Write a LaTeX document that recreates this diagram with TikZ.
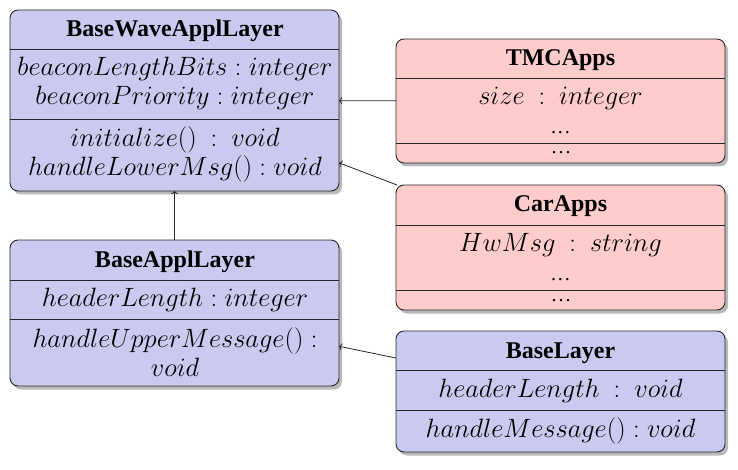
\RequirePackage{fix-cm}
\documentclass[tikz,border=0pt]{standalone}
\usepackage[no-math]{fontspec}
\setmainfont{Liberation Serif}
\newfontfamily\dotsfont[LetterSpace=10]{Liberation Serif}
\usetikzlibrary{shadows,arrows.meta}
\definecolor{umlblue}{RGB}{202,202,240}
\definecolor{umlpink}{RGB}{255,204,204}
\begin{document}
\begin{tikzpicture}[x=1pt,y=-1pt,
  classbox/.style={draw=black!85, line width=0.9pt, rounded corners=8pt, inner sep=0pt, outer sep=0pt, anchor=north west,
    minimum width=329pt, drop shadow={shadow xshift=3pt, shadow yshift=-3.5pt, fill=black!50, opacity=0.55}},
  bluebox/.style={classbox, fill=umlblue},
  pinkbox/.style={classbox, fill=umlpink},
  divider/.style={draw=black!85, line width=0.9pt},
  titletext/.style={anchor=base, font=\fontsize{24}{29}\selectfont\bfseries, inner sep=0pt},
  entry/.style={anchor=base, font=\fontsize{26.5}{29}\selectfont, inner sep=0pt},
  twoline/.style={entry, align=center},
  dotstext/.style={anchor=base, font=\dotsfont\fontsize{20}{29}\selectfont, inner sep=0pt, text height=3pt, text depth=0pt},
  link/.style={draw=black!85, line width=0.8pt, -{To[length=3pt,width=7pt]}}
]
\useasboundingbox (0,0) rectangle (738,470);

% ---------- BaseWaveApplLayer ----------
\node[bluebox, minimum height=181pt] (wave) at (10,10) {};
\draw[divider] (wave.west |- 0,49) -- (wave.east |- 0,49);
\draw[divider] (wave.west |- 0,119) -- (wave.east |- 0,119);
\node[titletext] (wt) at (175,37) {BaseWaveApplLayer};
\node[entry] (wa1) at (175,76) {$beaconLengthBits : integer$};
\node[entry] (wa2) at (175,105) {$beaconPriority : integer$};
\node[entry] (wm1) at (175,147) {$initialize()\ :\ void$};
\node[entry] (wm2) at (175,176) {$handleLowerMsg() : void$};

% ---------- TMCApps ----------
\node[pinkbox, minimum height=124pt] (tmc) at (396,39) {};
\draw[divider] (tmc.west |- 0,78) -- (tmc.east |- 0,78);
\draw[divider] (tmc.west |- 0,143) -- (tmc.east |- 0,143);
\node[titletext] (tt) at (560.5,66) {TMCApps};
\node[twoline] (ta1) at (560.5,133.5) {$size\ :\ integer$\\{\dotsfont\fontsize{20}{29}\selectfont ...}};
\node[dotstext] (tm1) at (561,154) {...};

% ---------- CarApps ----------
\node[pinkbox, minimum height=125pt] (car) at (396,185) {};
\draw[divider] (car.west |- 0,225) -- (car.east |- 0,225);
\draw[divider] (car.west |- 0,290) -- (car.east |- 0,290);
\node[titletext] (ct) at (560.5,212) {CarApps};
\node[twoline] (ca1) at (560.5,280.5) {$HwMsg\ :\ string$\\{\dotsfont\fontsize{20}{29}\selectfont ...}};
\node[dotstext] (cm1) at (561,301) {...};

% ---------- BaseApplLayer ----------
\node[bluebox, minimum height=146pt] (appl) at (10,240) {};
\draw[divider] (appl.west |- 0,280) -- (appl.east |- 0,280);
\draw[divider] (appl.west |- 0,319) -- (appl.east |- 0,319);
\node[titletext] (at) at (175,267) {BaseApplLayer};
\node[entry] (aa1) at (175,306) {$headerLength : integer$};
\node[entry] (am1) at (175,347) {$handleUpperMessage() :$};
\node[entry] (am2) at (175,376) {$void$};

% ---------- BaseLayer ----------
\node[bluebox, minimum height=121pt] (base) at (396,331) {};
\draw[divider] (base.west |- 0,370.5) -- (base.east |- 0,370.5);
\draw[divider] (base.west |- 0,410.5) -- (base.east |- 0,410.5);
\node[titletext] (bt) at (560.5,358) {BaseLayer};
\node[entry] (ba1) at (560.5,397) {$headerLength\ :\ void$};
\node[entry] (bm1) at (560.5,437) {$handleMessage() : void$};

% ---------- connectors ----------
\draw[link] (tmc) -- (wave);
\draw[link] (car) -- (wave);
\draw[link] (appl) -- (wave);
\draw[link] (base) -- (appl);
\end{tikzpicture}
\end{document}
